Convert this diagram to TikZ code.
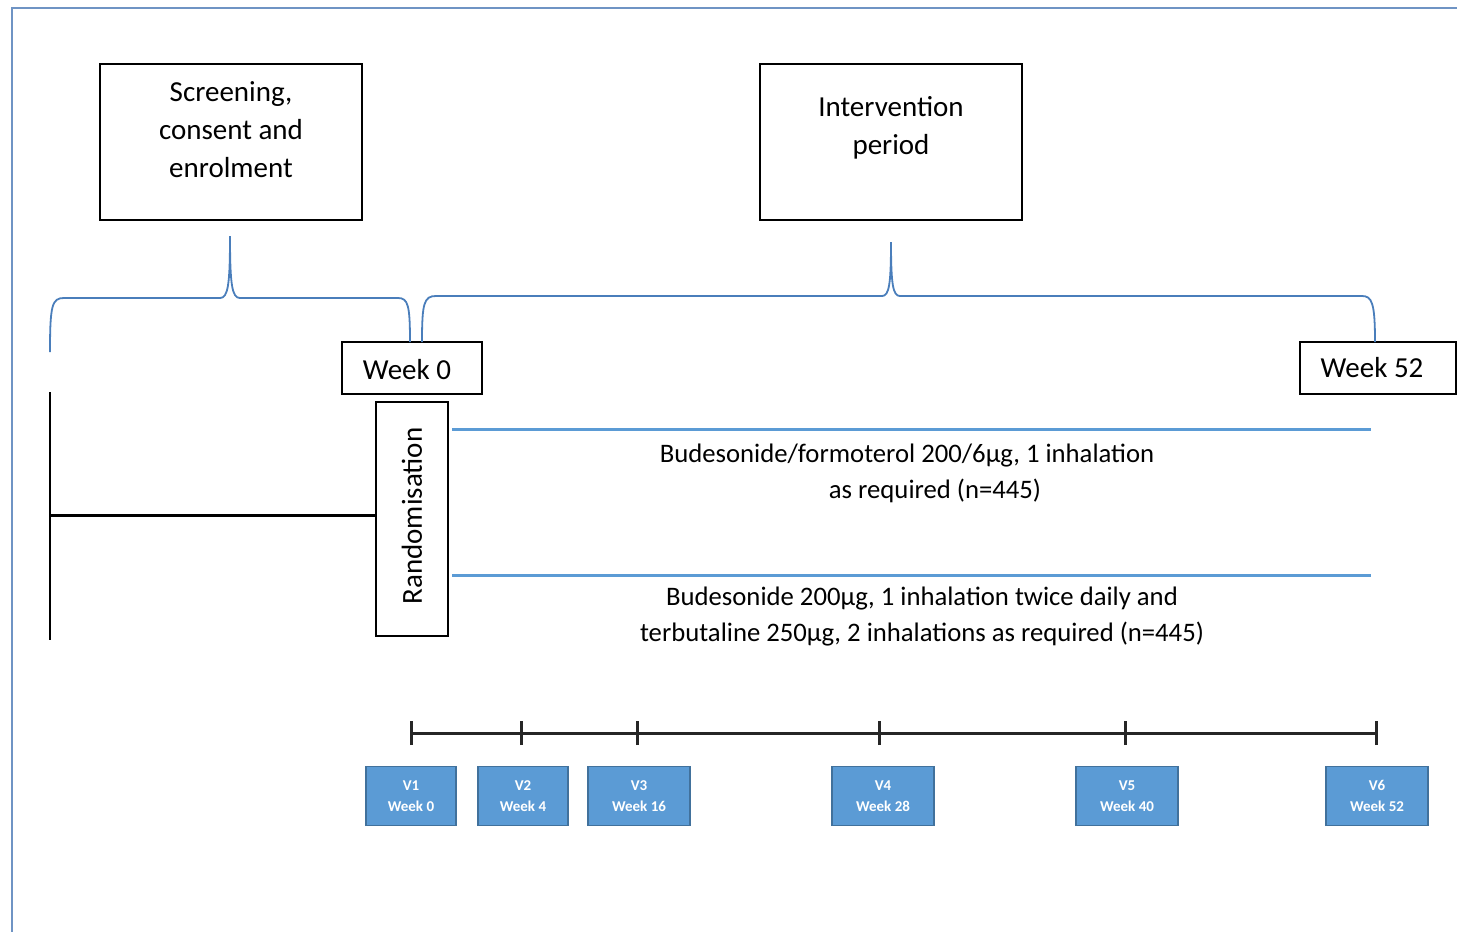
\documentclass[tikz,border=0pt]{standalone}
\usepackage{fontspec}
\setmainfont{Carlito}
\definecolor{frameblue}{HTML}{6F94C4}
\definecolor{braceblue}{HTML}{4A7EBB}
\definecolor{armblue}{HTML}{5B9BD5}
\definecolor{visitedge}{HTML}{41719C}
\begin{document}
\begin{tikzpicture}[x=1pt,y=-1pt,
  box/.style={draw=black, line width=1.6pt, inner sep=0pt},
  boxtext/.style={align=center, font=\fontsize{29}{38}\selectfont, inner sep=0pt},
  weektext/.style={font=\fontsize{29}{34}\selectfont, inner sep=0pt},
  armtext/.style={align=center, font=\fontsize{26.7}{36}\selectfont, inner sep=0pt},
  armline/.style={draw=armblue, line width=3pt},
  bracepath/.style={draw=braceblue, line width=1.8pt},
  visit/.style={draw=visitedge, line width=1.2pt, fill=armblue, text=white, align=center,
    font=\bfseries\fontsize{15}{21}\selectfont, inner sep=0pt, minimum height=59pt},
  tline/.style={draw=black!85, line width=3pt},
  tick/.style={draw=black!85, line width=3pt},
  blackline/.style={draw=black, line width=3pt}]
\useasboundingbox (0,0) rectangle (1457,932);
% frame
\draw[frameblue, line width=1.5pt] (12,932) -- (12,8) -- (1457,8);
% top boxes
\node[box, minimum width=262pt, minimum height=156pt] (scr) at (231,142) {};
\node[boxtext] (scrt) at (231,130) {Screening,\\consent and\\enrolment};
\node[box, minimum width=262pt, minimum height=156pt] (int) at (891,142) {};
\node[boxtext] (intt) at (891,128) {Intervention\\period};
% week boxes
\node[box, minimum width=140pt, minimum height=52pt] (w0) at (412,368) {};
\node[weektext] (w0t) at (407,370) {Week 0};
\node[box, minimum width=156pt, minimum height=52pt] (w52) at (1378,368) {};
\node[weektext] (w52t) at (1372,368) {Week 52};
% randomisation
\node[box, minimum width=72pt, minimum height=234pt] (rand) at (412,519) {};
\node[weektext, rotate=90] (randt) at (412,516) {Randomisation};
% braces
\coordinate (b1l) at (50,352);
\coordinate (b1t) at (230,236);
\coordinate (b1r) at (410,342);
\draw[bracepath] (b1l) .. controls (50,305) and (52,298) .. (64,298) -- (220,298)
  .. controls (228,298) and (230,285) .. (b1t)
  .. controls (230,285) and (232,298) .. (240,298) -- (398,298)
  .. controls (408,298) and (410,305) .. (b1r);
\coordinate (b2l) at (422,342);
\coordinate (b2t) at (891,242);
\coordinate (b2r) at (1375,342);
\draw[bracepath] (b2l) .. controls (422,303) and (424,296) .. (436,296) -- (882,296)
  .. controls (889,296) and (891,285) .. (b2t)
  .. controls (891,285) and (893,296) .. (900,296) -- (1362,296)
  .. controls (1372,296) and (1375,303) .. (b2r);
% screening line
\coordinate (sl1) at (50,392);
\coordinate (sl2) at (50,640);
\coordinate (sl3) at (50,515);
\draw[black, line width=2pt] (sl1) -- (sl2);
\draw[blackline] (sl3) -- (rand.west |- sl3);
% arms
\coordinate (a1s) at (452,429);
\coordinate (a1e) at (1371,429);
\coordinate (a2s) at (452,575);
\coordinate (a2e) at (1371,575);
\draw[armline] (a1s) -- (a1e);
\draw[armline] (a2s) -- (a2e);
\node[armtext] (arm1) at (935,473) {Budesonide/formoterol 200/6µg, 1 inhalation\hspace*{56pt}\\as required (n=445)};
\node[armtext] (arm2) at (922,617) {Budesonide 200µg, 1 inhalation twice daily and\\terbutaline 250µg, 2 inhalations as required (n=445)};
% timeline
\coordinate (t1) at (411,733);
\coordinate (t2) at (521,733);
\coordinate (t3) at (637,733);
\coordinate (t4) at (879,733);
\coordinate (t5) at (1125,733);
\coordinate (t6) at (1376,733);
\draw[tline] (t1) -- (t6);
\foreach \t in {t1,t2,t3,t4,t5,t6} {
  \draw[tick] ([yshift=-12pt]\t) -- ([yshift=12pt]\t);
}
% visits
\node[visit, minimum width=90pt] (v1) at (411,796) {V1\\Week 0};
\node[visit, minimum width=90pt] (v2) at (523,796) {V2\\Week 4};
\node[visit, minimum width=102pt] (v3) at (639,796) {V3\\Week 16};
\node[visit, minimum width=102pt] (v4) at (883,796) {V4\\Week 28};
\node[visit, minimum width=102pt] (v5) at (1127,796) {V5\\Week 40};
\node[visit, minimum width=102pt] (v6) at (1377,796) {V6\\Week 52};
\end{tikzpicture}
\end{document}
